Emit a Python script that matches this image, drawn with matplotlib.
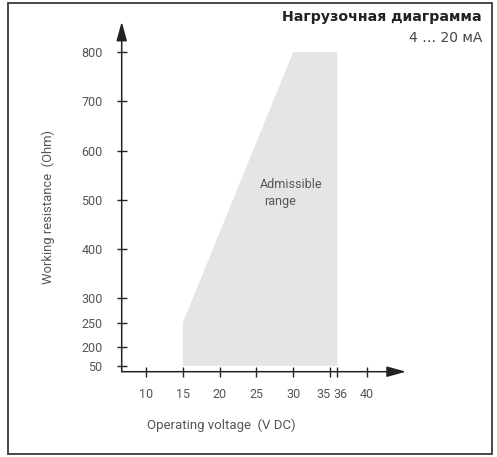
import numpy as np
import matplotlib
matplotlib.use("Agg")
import matplotlib.pyplot as plt
import matplotlib.transforms as mtransforms
from matplotlib.patches import Rectangle

# Data
x_ticks = [10, 15, 20, 25, 30, 35, 36, 40]
y_ticks = [50, 200, 250, 300, 400, 500, 600, 700, 800]
region_v = [15, 15, 30, 36, 36]
region_r = [50, 250, 800, 800, 50]

title = "Нагрузочная диаграмма"
subtitle = "4 … 20 мА"
xlabel = "Operating voltage  (V DC)"
ylabel = "Working resistance  (Ohm)"
region_label = ["Admissible", "range"]

plt.rcParams['font.family'] = ['Roboto', 'DejaVu Sans']

W, H = 497, 457
fig = plt.figure(figsize=(W / 100, H / 100), dpi=100)

x0, x1 = 121.7, 406.0
y0, y1 = 371.7, 21.7
ax = fig.add_axes([x0 / W, 1 - y0 / H, (x1 - x0) / W, (y0 - y1) / H])

k = 0.25
def fwd(v):
    v = np.asarray(v, dtype=float)
    return np.where(v >= 200, v, 200 - (200 - v) * k)
def inv(t):
    t = np.asarray(t, dtype=float)
    return np.where(t >= 200, t, 200 - (200 - t) / k)

ax.set_yscale('function', functions=(fwd, inv))
ax.set_xlim(6.70, 45.33)
ax.set_ylim(1.6, 862)

ax.fill(region_v, region_r, color='#e4e5e7', lw=0, zorder=1)

for s in ['top', 'right', 'left', 'bottom']:
    ax.spines[s].set_visible(False)

axis_col = '#222222'
astyle = '-|>,head_length=0.58,head_width=0.16'
ax.annotate('', xy=(1, 0), xytext=(0, 0), xycoords='axes fraction',
            arrowprops=dict(arrowstyle=astyle, mutation_scale=20, color=axis_col,
                            lw=1.1, shrinkA=0, shrinkB=0), zorder=3)
ax.annotate('', xy=(0, 1), xytext=(0, 0), xycoords='axes fraction',
            arrowprops=dict(arrowstyle=astyle, mutation_scale=20, color=axis_col,
                            lw=1.1, shrinkA=0, shrinkB=0), zorder=3)

ax.set_xticks(x_ticks)
ax.set_xticklabels([str(v) for v in x_ticks])
ax.set_yticks(y_ticks)
ax.set_yticklabels([str(v) for v in y_ticks])
ax.tick_params(axis='both', direction='inout', length=7.5, width=1.0,
               color=axis_col, labelcolor='#555555', labelsize=9)
ax.tick_params(axis='y', pad=10)
ax.tick_params(axis='x', pad=8)
ax.yaxis.set_minor_locator(matplotlib.ticker.NullLocator())
ax.xaxis.set_minor_locator(matplotlib.ticker.NullLocator())

# nudge the crowded 35 / 36 labels apart
for lab in ax.get_xticklabels():
    if lab.get_text() == '35':
        lab.set_transform(lab.get_transform() + mtransforms.ScaledTranslation(-6.5 / 100, 0, fig.dpi_scale_trans))
    elif lab.get_text() == '36':
        lab.set_transform(lab.get_transform() + mtransforms.ScaledTranslation(3 / 100, 0, fig.dpi_scale_trans))

fig.text(259.5 / W, 1 - 184 / H, region_label[0], fontsize=9, color='#555555',
         ha='left', va='center')
fig.text(264.5 / W, 1 - 201.5 / H, region_label[1], fontsize=9, color='#555555',
         ha='left', va='center')

fig.text(482 / W, 1 - 17.5 / H, title, fontsize=10.2, fontweight='bold',
         family=['DejaVu Sans'], color='#222222', ha='right', va='center')
fig.text(482 / W, 1 - 37.5 / H, subtitle, fontsize=10, family=['DejaVu Sans'],
         color='#444444', ha='right', va='center')

fig.text(221 / W, 1 - 425 / H, xlabel, fontsize=9.5, color='#555555',
         ha='center', va='center')
fig.text(48 / W, 1 - 206.5 / H, ylabel, fontsize=9.4, color='#555555',
         ha='center', va='center', rotation=90)

fig.patches.append(Rectangle((8.3 / W, 1 - 454 / H), (491.5 - 8.3) / W, (454 - 3.3) / H,
                             transform=fig.transFigure, fill=False,
                             edgecolor='#3a3a3a', lw=1.3))

fig.savefig('out.png', dpi=100)
